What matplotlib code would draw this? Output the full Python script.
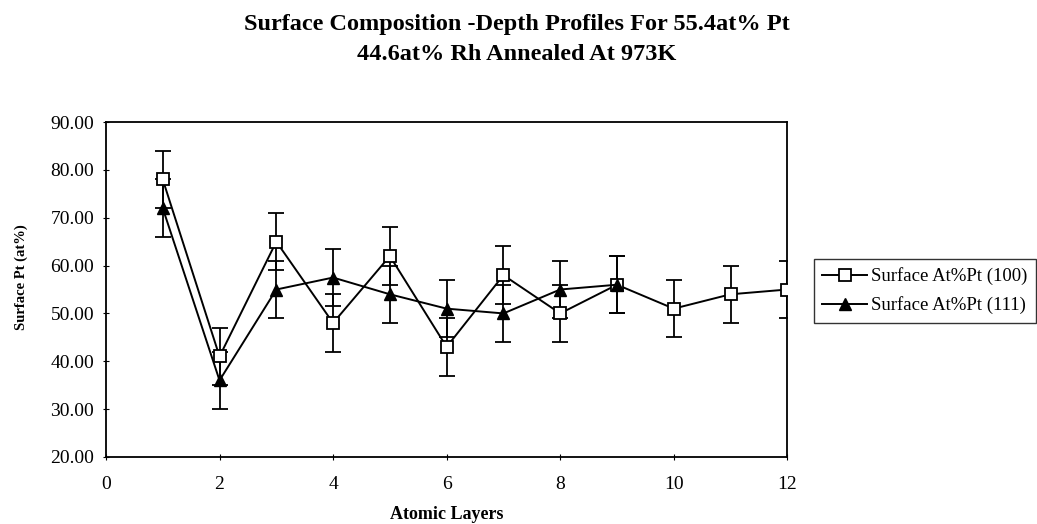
import matplotlib
matplotlib.use('Agg')
import matplotlib.pyplot as plt
import numpy as np

# --- Data ---
layers_100 = [1, 2, 3, 4, 5, 6, 7, 8, 9, 10, 11, 12]
pt_100 = [78.0, 41.0, 65.0, 48.0, 62.0, 43.0, 58.0, 50.0, 56.0, 51.0, 54.0, 55.0]
err_100 = [6.0] * 12

layers_111 = [1, 2, 3, 4, 5, 6, 7, 8, 9]
pt_111 = [72.0, 36.0, 55.0, 57.5, 54.0, 51.0, 50.0, 55.0, 56.0]
err_111 = [6.0] * 9

x_ticks = [0, 2, 4, 6, 8, 10, 12]
y_ticks = [20, 30, 40, 50, 60, 70, 80, 90]

plt.rcParams['font.family'] = ['Liberation Serif', 'DejaVu Serif']

fig = plt.figure(figsize=(10.37, 5.24), dpi=100)
fig.patch.set_facecolor('white')
ax = fig.add_axes([0.1022, 0.128, 0.657, 0.639])

# error bars first, then the lines + markers on top (legend shows no bars)
ax.errorbar(layers_100, pt_100, yerr=err_100, fmt='none', ecolor='black',
            elinewidth=1.3, capsize=6, capthick=1.3, zorder=2)
ax.errorbar(layers_111, pt_111, yerr=err_111, fmt='none', ecolor='black',
            elinewidth=1.3, capsize=6, capthick=1.3, zorder=2)
ax.plot(layers_100, pt_100, color='black', lw=1.4, marker='s', ms=9,
        mfc='white', mec='black', mew=1.3, label='Surface At%Pt (100)', zorder=3)
ax.plot(layers_111, pt_111, color='black', lw=1.4, marker='^', ms=9,
        mfc='black', mec='black', label='Surface At%Pt (111)', zorder=3)

ax.set_xlim(0, 12)
ax.set_ylim(20, 90)
ax.set_xticks(x_ticks)
ax.set_yticks(y_ticks)
ax.set_yticklabels([f'{v:.2f}' for v in y_ticks])
ax.tick_params(direction='inout', length=5, width=0.8, labelsize=14)
ax.tick_params(axis='x', pad=11)
ax.tick_params(axis='y', pad=6)

for s in ax.spines.values():
    s.set_linewidth(1.3)

ax.set_xlabel('Atomic Layers', fontsize=13, fontweight='bold', va='top')
ax.xaxis.set_label_coords(0.5, -0.148)
ax.set_ylabel('Surface Pt (at%)', fontsize=10.5, fontweight='bold')
ax.yaxis.set_label_coords(-0.115, 0.537)

title_lines = ['Surface Composition -Depth Profiles For 55.4at% Pt',
               '44.6at% Rh Annealed At 973K']
fig.text(0.498, 0.943, title_lines[0], ha='center', va='baseline',
         fontsize=17.5, fontweight='bold')
fig.text(0.498, 0.886, title_lines[1], ha='center', va='baseline',
         fontsize=17.5, fontweight='bold')

leg = ax.legend(loc='upper left', bbox_to_anchor=(0.785, 0.506), bbox_transform=fig.transFigure,
                fontsize=13.5, frameon=True, fancybox=False, edgecolor='black',
                handlelength=2.4, borderpad=0.45, labelspacing=0.6, handletextpad=0.2,
                borderaxespad=0)
leg.get_frame().set_linewidth(1.0)

fig.savefig('out.png', dpi=100, facecolor='white')
